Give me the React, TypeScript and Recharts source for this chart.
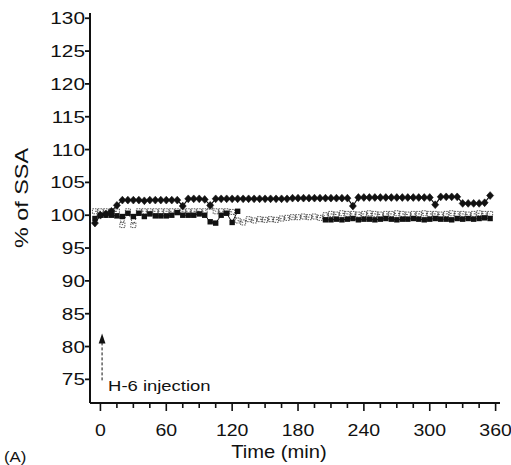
import React from 'react';
import { LineChart, Line, XAxis, YAxis, ReferenceLine } from 'recharts';

const times = [-5, 0, 5, 10, 15, 20, 25, 30, 35, 40, 45, 50, 55, 60, 65, 70, 75, 80, 85, 90, 95, 100, 105, 110, 115, 120, 125, 130, 135, 140, 145, 150, 155, 160, 165, 170, 175, 180, 185, 190, 195, 200, 205, 210, 215, 220, 225, 230, 235, 240, 245, 250, 255, 260, 265, 270, 275, 280, 285, 290, 295, 300, 305, 310, 315, 320, 325, 330, 335, 340, 345, 350, 355];

const diamondSeries = [98.8, 100.0, 100.2, 100.6, 101.5, 102.3, 102.3, 102.3, 102.3, 102.2, 102.3, 102.3, 102.3, 102.3, 102.3, 102.3, 101.4, 102.5, 102.5, 102.5, 102.4, 101.5, 102.5,
  102.5, 102.5, 102.5, 102.5, 102.5, 102.5, 102.5, 102.5, 102.5, 102.5, 102.5, 102.5, 102.5,
  102.6, 102.6, 102.6, 102.6, 102.6, 102.6, 102.6, 102.6, 102.6, 102.6, 102.6,
  101.4,
  102.7, 102.7, 102.7, 102.7, 102.7, 102.7, 102.7, 102.7, 102.7, 102.7, 102.7, 102.7, 102.7, 102.7,
  101.6,
  102.8, 102.8, 102.8, 102.8,
  101.8, 101.8, 101.8, 101.8,
  101.9, 103.0];

const filledSquareSeries: (number | null)[] = [99.5, 100.0, 100.0, 100.0, 99.9, 99.8, 100.3, 99.8, 100.3, 99.8, 100.2, 99.9, 99.9, 99.9, 100.0, 100.4, 100.0, 100.0, 100.0, 100.2, 100.0, 99.0, 98.8, 100.0, 100.3, 98.9, 100.6,
  null, null, null, null, null, null, null, null, null, null, null, null, null, null, null,
  99.3,
  99.3, 99.4, 99.3, 99.4, 99.5, 99.3, 99.4, 99.4, 99.3, 99.4, 99.5, 99.4, 99.3, 99.4, 99.4, 99.5, 99.4, 99.3, 99.4, 99.5, 99.4, 99.4, 99.3, 99.5, 99.4, 99.5, 99.4, 99.5, 99.6, 99.5];

const openSquareSeries = [100.6, 100.6, 100.6, 100.6, 100.6, 98.5, 100.6, 98.5, 100.6, 100.6, 100.6, 100.6, 100.6, 100.6, 100.6, 100.6, 100.6, 100.6, 100.6, 100.6, 100.6, 101.3, 100.6, 100.6, 100.6, 100.5, 99.2, 98.9, 99.4, 99.2, 99.4, 99.3, 99.4, 99.3, 99.5, 99.6, 99.7, 99.7, 99.8, 99.7, 99.8, 99.6, 100.0,
  100.2, 100.1, 100.3, 100.2, 100.2, 100.1, 100.2, 100.3, 100.2, 100.1, 100.2, 100.2, 100.3, 100.2, 100.1, 100.2, 100.2, 100.3, 100.2, 100.2, 100.1, 100.2, 100.3, 100.2, 100.2, 100.1, 100.2, 100.3, 100.2, 100.2];

const xTicks = [0, 15, 30, 45, 60, 75, 90, 105, 120, 135, 150, 165, 180, 195, 210, 225, 240, 255, 270, 285, 300, 315, 330, 345, 360];
const xTickLabels = ['0', '60', '120', '180', '240', '300', '360'];
const yTicks = [75, 80, 85, 90, 95, 100, 105, 110, 115, 120, 125, 130];
const yTickLabels = ['75', '80', '85', '90', '95', '100', '105', '110', '115', '120', '125', '130'];

const injectionTime = 1.5;
const injectionArrowBottom = 74.85;
const injectionArrowTop = 82.0;
const injectionText = 'H-6 injection';
const xAxisTitle = 'Time (min)';
const yAxisTitle = '% of SSA';
const panelTag = '(A)';

const data = times.map((t, i) => ({
  t,
  a: diamondSeries[i],
  b: filledSquareSeries[i],
  c: openSquareSeries[i],
}));

const FONT = '"Liberation Sans", Arial, Helvetica, sans-serif';
const INK = '#111';

function valid(cx: any, cy: any) {
  return typeof cx === 'number' && typeof cy === 'number' && !isNaN(cx) && !isNaN(cy);
}

function DiamondDot(props: any) {
  const { cx, cy, index } = props;
  if (!valid(cx, cy)) return <g key={`d${index}`} />;
  return <polygon key={`d${index}`} points={`${cx},${cy - 3.9} ${cx + 3.5},${cy} ${cx},${cy + 3.9} ${cx - 3.5},${cy}`} fill={INK} stroke={INK} strokeWidth={0.6} />;
}

function FilledSquareDot(props: any) {
  const { cx, cy, index } = props;
  if (!valid(cx, cy)) return <g key={`s${index}`} />;
  return <rect key={`s${index}`} x={cx - 2.7} y={cy - 2.7} width={5.4} height={5.4} fill={INK} />;
}

function OpenSquareDot(props: any) {
  const { cx, cy, index } = props;
  if (!valid(cx, cy)) return <g key={`o${index}`} />;
  return <rect key={`o${index}`} x={cx - 2.5} y={cy - 2.5} width={5} height={5} fill="none" stroke="#444" strokeWidth={0.9} strokeDasharray="1.5 1" />;
}

function XTick(props: any) {
  const { x, y, payload } = props;
  const v = payload.value;
  const idx = v % 60 === 0 ? v / 60 : -1;
  const major = idx >= 0;
  return (
    <g>
      <line x1={x} y1={y} x2={x} y2={y + (major ? 8 : 5)} stroke={INK} strokeWidth={1.6} />
      {major && (
        <text transform={`translate(${x},${y + 33}) scale(1.22,1)`} textAnchor="middle" fontSize={16} fontFamily={FONT} fill={INK}>
          {xTickLabels[idx]}
        </text>
      )}
    </g>
  );
}

function YTick(props: any) {
  const { x, y, payload } = props;
  const i = yTicks.indexOf(payload.value);
  return (
    <g>
      <line x1={x - 5} y1={y} x2={x} y2={y} stroke={INK} strokeWidth={1.8} />
      <text transform={`translate(${x - 5},${y + 6}) scale(1.3,1)`} textAnchor="end" fontSize={16} fontFamily={FONT} fill={INK}>
        {yTickLabels[i]}
      </text>
    </g>
  );
}

function XTitle(props: any) {
  const vb = props.viewBox || { x: 0, y: 0, width: 0, height: 0 };
  return (
    <g>
      <text transform={`translate(${vb.x + 189},${vb.y + 55}) scale(1.12,1)`} textAnchor="middle" fontSize={18} fontFamily={FONT} fill={INK}>
        {xAxisTitle}
      </text>
      <text transform={`translate(${vb.x - 86},${vb.y + 59}) scale(1.2,1)`} textAnchor="start" fontSize={14} fontFamily={FONT} fill={INK}>
        {panelTag}
      </text>
    </g>
  );
}

function YTitle(props: any) {
  const vb = props.viewBox || { x: 0, y: 0, width: 0, height: 0 };
  return (
    <text transform={`translate(${vb.x + 28},${vb.y + 185}) rotate(-90) scale(1.3,1)`} textAnchor="middle" fontSize={18} fontFamily={FONT} fill={INK}>
      {yAxisTitle}
    </text>
  );
}

function InjectionArrow(props: any) {
  const { x1, y1, x2, y2 } = props;
  if (!valid(x1, y1) || !valid(x2, y2)) return <g />;
  const top = Math.min(y1, y2);
  const bottom = Math.max(y1, y2);
  const x = x1;
  return (
    <g>
      <line x1={x} y1={top + 9} x2={x} y2={bottom} stroke={INK} strokeWidth={1} strokeDasharray="3 2" />
      <polygon points={`${x},${top} ${x + 3.4},${top + 10} ${x - 3.4},${top + 10}`} fill={INK} />
      <text transform={`translate(${x + 6},${bottom + 11}) scale(1.23,1)`} textAnchor="start" fontSize={15} fontFamily={FONT} fill={INK}>
        {injectionText}
      </text>
    </g>
  );
}

export default function App() {
  return (
    <div style={{ position: 'absolute', left: 0, top: 0, width: 511, height: 465, background: '#fff' }}>
      <LineChart width={511} height={465} data={data} margin={{ top: 13, right: 11, bottom: 0, left: 0 }}>
        <XAxis
          dataKey="t"
          type="number"
          domain={[-9.5, 364]}
          allowDataOverflow
          ticks={xTicks}
          interval={0}
          tick={<XTick />}
          tickLine={false}
          tickSize={0}
          tickMargin={0}
          height={62}
          axisLine={{ stroke: INK, strokeWidth: 2 }}
          label={<XTitle />}
        />
        <YAxis
          type="number"
          domain={[71.4, 130.8]}
          allowDataOverflow
          ticks={yTicks}
          interval={0}
          tick={<YTick />}
          tickLine={false}
          tickSize={0}
          tickMargin={0}
          width={90}
          axisLine={{ stroke: INK, strokeWidth: 2 }}
          label={<YTitle />}
        />
        <ReferenceLine
          segment={[{ x: injectionTime, y: injectionArrowBottom }, { x: injectionTime, y: injectionArrowTop }]}
          ifOverflow="visible"
          shape={<InjectionArrow />}
        />
        <Line dataKey="c" stroke="#555" strokeWidth={1} strokeDasharray="2 2" dot={OpenSquareDot} isAnimationActive={false} connectNulls={false} />
        <Line dataKey="b" stroke={INK} strokeWidth={1} dot={FilledSquareDot} isAnimationActive={false} connectNulls={false} />
        <Line dataKey="a" stroke={INK} strokeWidth={1.2} dot={DiamondDot} isAnimationActive={false} connectNulls={false} />
      </LineChart>
    </div>
  );
}
